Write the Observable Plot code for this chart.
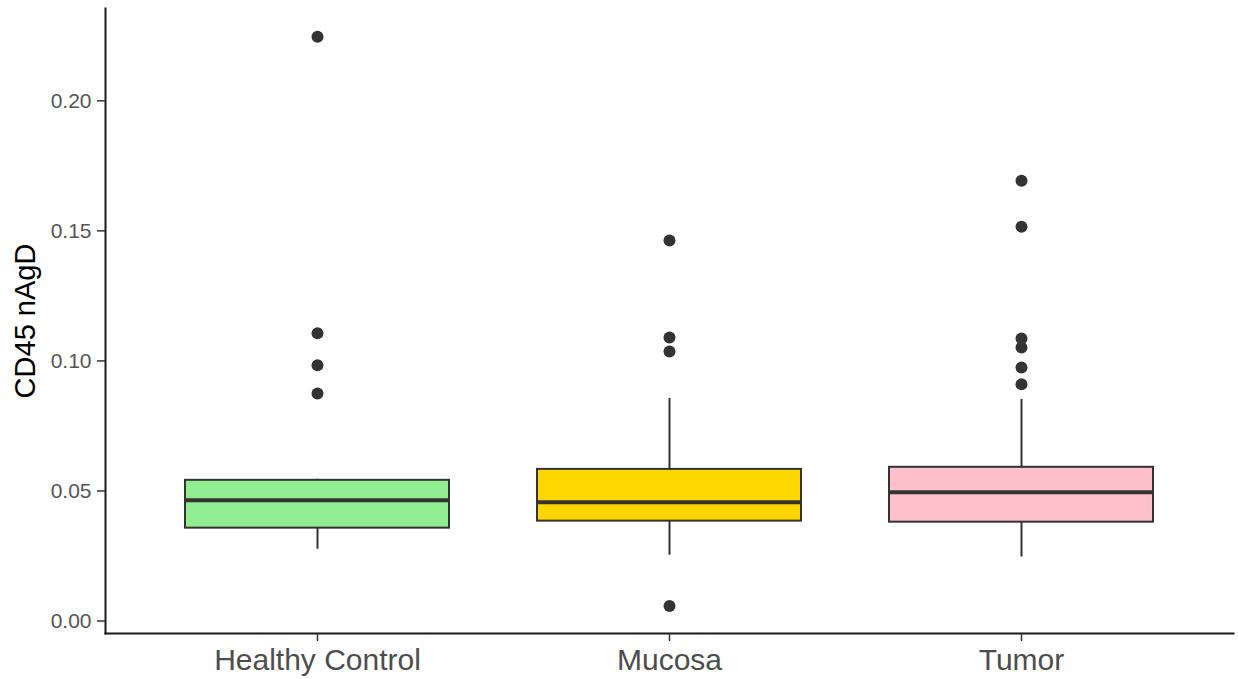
<!DOCTYPE html>
<html>
<head>
<meta charset="utf-8">
<script src="https://cdn.jsdelivr.net/npm/d3@7"></script>
<script src="https://cdn.jsdelivr.net/npm/@observablehq/plot@0.6"></script>
<style>
  html, body { margin: 0; padding: 0; background: #fff; }
</style>
</head>
<body>
<div id="chart"></div>
<script>
// Categories and box-plot summaries
const groups   = ["Healthy Control", "Mucosa", "Tumor"];
const fills    = ["#90EE90", "#FFD700", "#FFC0CB"];
const whiskerLo = [0.0276, 0.0253, 0.0246];
const q1        = [0.0357, 0.0384, 0.0380];
const median    = [0.0464, 0.0457, 0.0495];
const q3        = [0.0541, 0.0583, 0.0591];
const whiskerHi = [0.0545, 0.0856, 0.0852];
// Outliers per group
const outHealthy = [0.2246, 0.1106, 0.0983, 0.0875];
const outMucosa  = [0.1463, 0.1090, 0.1036, 0.0058];
const outTumor   = [0.1693, 0.1516, 0.1086, 0.1052, 0.0975, 0.0910];
const yTicks = [0.00, 0.05, 0.10, 0.15, 0.20];
const yLabel = "CD45 nAgD";

const stats = groups.map((g, i) => ({
  group: g, lo: whiskerLo[i], q1: q1[i], median: median[i], q3: q3[i], hi: whiskerHi[i]
}));
const outliers = [
  ...outHealthy.map(v => ({group: groups[0], value: v})),
  ...outMucosa.map(v => ({group: groups[1], value: v})),
  ...outTumor.map(v => ({group: groups[2], value: v}))
];

const ink = "#333333";
const chart = Plot.plot({
  width: 1238,
  height: 679,
  marginLeft: 105,
  marginRight: 5,
  marginTop: 8,
  marginBottom: 46,
  style: { fontFamily: "'Liberation Sans', Arial, sans-serif", background: "#fff" },
  x: { domain: groups, paddingInner: 0.25, paddingOuter: 0.225 },
  y: { domain: [-0.0048, 0.2355] },
  color: { domain: groups, range: fills },
  marks: [
    Plot.frame({ anchor: "left", stroke: "#1a1a1a", strokeWidth: 2 }),
    Plot.frame({ anchor: "bottom", stroke: "#1a1a1a", strokeWidth: 2 }),
    Plot.ruleX(stats, { x: "group", y1: "lo", y2: "hi", stroke: ink, strokeWidth: 2 }),
    Plot.barY(stats, { x: "group", y1: "q1", y2: "q3", fill: "group", stroke: ink, strokeWidth: 2 }),
    Plot.tickY(stats, { x: "group", y: "median", stroke: ink, strokeWidth: 4 }),
    Plot.dot(outliers, { x: "group", y: "value", r: 6, fill: ink, stroke: "none" }),
    Plot.axisY({ ticks: yTicks, tickFormat: d3.format(".2f"), tickSize: 8, tickPadding: 6,
                 fontSize: 21, fill: "#555555", stroke: ink, strokeWidth: 1.5, label: null }),
    Plot.axisY({ ticks: [], label: yLabel, labelAnchor: "center", labelArrow: "none",
                 labelOffset: 91, fontSize: 29, fill: "#000" }),
    Plot.axisX({ tickSize: 8, tickPadding: 7, fontSize: 30, fill: "#4d4d4d",
                 stroke: ink, strokeWidth: 1.5, label: null })
  ]
});
document.getElementById("chart").appendChild(chart);
</script>
</body>
</html>
